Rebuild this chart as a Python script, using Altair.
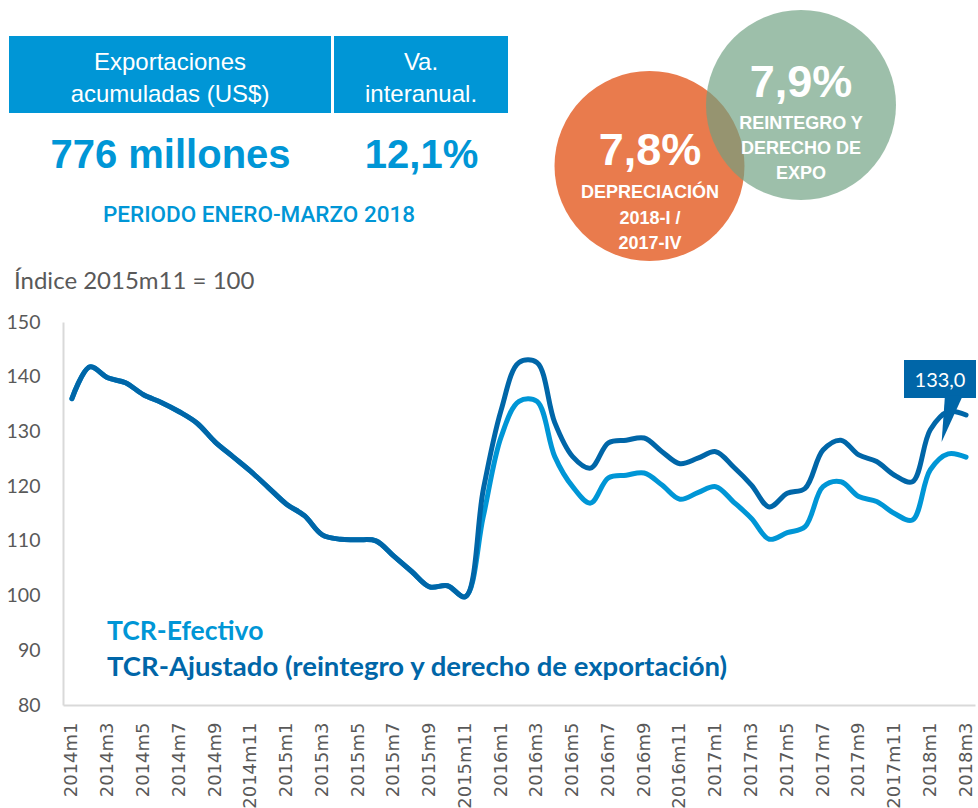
import altair as alt
import pandas as pd

# ---------------- data ----------------
years = [2014, 2015, 2016, 2017, 2018]
months = [f"{y}m{m}" for y in years for m in range(1, 13)][:51]   # 2014m1 .. 2018m3
tick_labels = months[::2]
y_ticks = [80, 90, 100, 110, 120, 130, 140, 150]

tcr_ajustado = [136.0, 141.8, 139.8, 138.9, 136.7, 135.3, 133.6, 131.5, 128.1, 125.4, 122.7, 119.7,
                116.7, 114.6, 111.1, 110.3, 110.2, 110.0, 107.2, 104.4, 101.6, 101.8, 99.8, 119.3,
                133.9, 142.6, 142.6, 131.6, 125.4, 123.3, 127.9, 128.4, 128.8, 126.3, 124.1, 125.1,
                126.3, 123.5, 120.2, 116.2, 118.7, 119.6, 126.6, 128.4, 125.7, 124.5, 122.0, 120.8,
                130.3, 133.6, 133.0]
tcr_efectivo = [136.0, 141.8, 139.8, 138.9, 136.7, 135.3, 133.6, 131.5, 128.1, 125.4, 122.7, 119.7,
                116.7, 114.6, 111.1, 110.3, 110.2, 110.0, 107.2, 104.4, 101.6, 101.8, 99.8, 114.4,
                129.0, 135.5, 135.5, 125.4, 119.9, 116.9, 121.5, 122.0, 122.4, 120.2, 117.6, 118.8,
                119.9, 117.1, 114.1, 110.3, 111.5, 112.6, 119.9, 120.8, 118.1, 117.2, 115.0, 113.8,
                123.0, 125.9, 125.3]
last_label = "133,0"

df_aj = pd.DataFrame({"mes": months, "valor": tcr_ajustado})
df_ef = pd.DataFrame({"mes": months, "valor": tcr_efectivo})

# ---------------- styles ----------------
LIGHT = "#0096D6"
DARK = "#0066A8"
GRAY = "#595959"
BOX = "#0096D6"
ORANGE = "#E97B4D"
GREEN = "#6FA182"

W, H = 912, 383
OX, OY = 63, 322   # plot origin in page pixels

x_enc = alt.X("mes:O", sort=months,
              scale=alt.Scale(type="point", padding=0.5),
              axis=alt.Axis(values=tick_labels, labelAngle=-90, title=None, ticks=False,
                            labelFont="DejaVu Sans", labelFontSize=18, labelColor=GRAY,
                            labelPadding=17, domainColor="#D9D9D9", domainWidth=2,
                            labelOverlap=False))
y_enc = alt.Y("valor:Q",
              scale=alt.Scale(domain=[80, 150], nice=False, zero=False),
              axis=alt.Axis(values=y_ticks, title=None, ticks=False, grid=False,
                            labelFont="Lato", labelFontSize=19.5, labelColor=GRAY,
                            labelPadding=23, domainColor="#D9D9D9", domainWidth=2))

line_ef = alt.Chart(df_ef).mark_line(color=LIGHT, strokeWidth=5, interpolate="catmull-rom",
                                      strokeCap="round").encode(x=x_enc, y=y_enc)
line_aj = alt.Chart(df_aj).mark_line(color=DARK, strokeWidth=5, interpolate="catmull-rom",
                                      strokeCap="round").encode(x=x_enc, y=y_enc)


def one(text):
    return alt.Chart(pd.DataFrame({"t": [text]}))


def txt(text, px, py, size, color, weight="normal", font="Liberation Sans",
        align="center", baseline="alphabetic"):
    return one(text).mark_text(fontSize=size, color=color, fontWeight=weight, font=font,
                               align=align, baseline=baseline).encode(
        text="t:N", x=alt.value(px - OX), y=alt.value(py - OY))


def rect(x1, x2, y1, y2, color):
    return one("r").mark_rect(color=color).encode(
        x=alt.value(x1 - OX), x2=alt.value(x2 - OX),
        y=alt.value(y1 - OY), y2=alt.value(y2 - OY))


def circle(cx, cy, r, color, opacity=1.0):
    return one("c").mark_point(shape="circle", filled=True, color=color, opacity=opacity,
                               size=(2 * r) ** 2, strokeWidth=0).encode(
        x=alt.value(cx - OX), y=alt.value(cy - OY))


layers = [
    # header boxes
    rect(9, 331, 36, 113, BOX),
    rect(334, 508, 36, 113, BOX),
    txt("Exportaciones", 170, 70, 24, "white"),
    txt("acumuladas (US$)", 170, 101.5, 24, "white"),
    txt("Va.", 421, 70, 24, "white"),
    txt("interanual.", 421, 101.5, 24, "white"),
    txt("776 millones", 170.5, 168, 40, BOX, "bold"),
    txt("12,1%", 421.5, 168, 40, BOX, "bold"),
    txt("PERIODO ENERO-MARZO 2018", 259, 221.5, 22.5, BOX, 500, "Roboto"),
    # circles
    circle(649.5, 166, 95, ORANGE),
    circle(801, 105, 95, GREEN, 0.68),
    txt("7,8%", 650, 165, 45, "white", "bold"),
    txt("DEPRECIACIÓN", 650, 198, 18, "white", "bold"),
    txt("2018-I /", 650, 224, 18, "white", "bold"),
    txt("2017-IV", 650, 249, 18, "white", "bold"),
    txt("7,9%", 801, 97, 45, "white", "bold"),
    txt("REINTEGRO Y", 801, 129, 18, "white", "bold"),
    txt("DERECHO DE", 801, 154, 18, "white", "bold"),
    txt("EXPO", 801, 179, 18, "white", "bold"),
    # axis caption
    txt("Índice 2015m11 = 100", 14, 288.5, 24, GRAY, "normal", "Lato", "left"),
    # series lines
    line_ef,
    line_aj,
    # in-chart legend
    txt("TCR-Efectivo", 107, 640, 26.5, LIGHT, "bold", "Lato", "left"),
    txt("TCR-Ajustado (reintegro y derecho de exportación)", 107, 676, 27.5, DARK, "bold",
        "Lato", "left"),
    # callout
    rect(904, 976, 360, 398, DARK),
    one("p").mark_point(shape="M-0.23,-1.1L0.58,-1.1L-0.38,1Z", filled=True, color=DARK,
                        opacity=1, size=44 ** 2, strokeWidth=0).encode(
        x=alt.value(950 - OX), y=alt.value(420 - OY)),
    txt(last_label, 940, 387, 20, "white", "normal", "Lato"),
]

chart = alt.layer(*layers).properties(
    width=W, height=H,
    autosize=alt.AutoSizeParams(type="none"),
    padding={"left": OX, "top": OY, "right": 978 - OX - W, "bottom": 808 - OY - H},
    background="white",
).configure_view(stroke=None)

chart.save("out.html", embed_options={"renderer": "svg", "actions": False})
